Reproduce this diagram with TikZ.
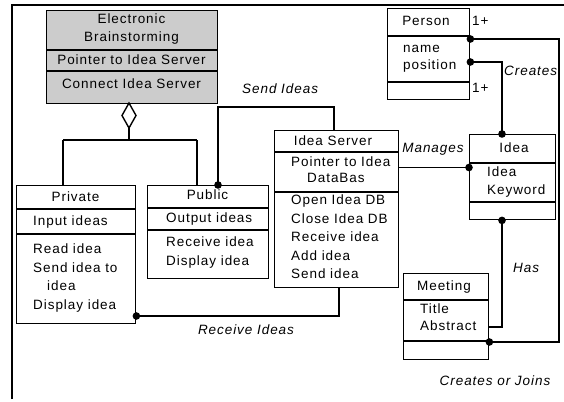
\documentclass[tikz,border=0pt]{standalone}
\usepackage{fontspec}
\setmainfont{Liberation Sans}[LetterSpace=7]
\begin{document}
\begin{tikzpicture}[x=1pt,y=-1pt,
  txt/.style={inner sep=0pt, text height=9.5pt, text depth=0pt, font=\fontsize{13.5}{15}\selectfont},
  lt/.style={txt, anchor=west},
  it/.style={txt, font=\fontsize{13.5}{15}\selectfont\itshape},
  itl/.style={it, anchor=west},
  cls/.style={draw, line width=1.4pt, inner sep=0pt, anchor=north west},
  sep/.style={line width=1.4pt},
  tsep/.style={line width=2.8pt},
  conn/.style={line width=1.4pt},
  dot/.style={fill=black}]
\useasboundingbox (0,0) rectangle (564,401);
% frame
\draw[line width=1.3pt] (12,399) -- (12,5) -- (564,5);

% Electronic Brainstorming
\node[cls, minimum width=171pt, minimum height=93pt, fill=gray!40] (eb) at (46,10) {};
\draw[sep] ([yshift=-40pt]eb.north west) -- ([yshift=-40pt]eb.north east);
\draw[sep] ([yshift=-61pt]eb.north west) -- ([yshift=-61pt]eb.north east);
\node[txt] (eb1) at (131.5,19) {Electronic};
\node[txt] (eb2) at (131.5,37) {Brainstorming};
\node[txt] (eb3) at (131.5,60) {Pointer to Idea Server};
\node[txt] (eb4) at (131.5,84) {Connect Idea Server};

% Private
\node[cls, minimum width=119pt, minimum height=138pt] (private) at (16,185) {};
\draw[tsep] ([yshift=-24pt]private.north west) -- ([yshift=-24pt]private.north east);
\draw[sep] ([yshift=-49pt]private.north west) -- ([yshift=-49pt]private.north east);
\node[txt] (pv0) at (75.5,197) {Private};
\node[lt] (pv1) at (33,221) {Input ideas};
\node[lt] (pv2) at (33,249) {Read idea};
\node[lt] (pv3) at (33,267.5) {Send idea to};
\node[lt] (pv4) at (47,286) {idea};
\node[lt] (pv5) at (33,305) {Display idea};

% Public
\node[cls, minimum width=121pt, minimum height=93pt] (public) at (147,185) {};
\draw[tsep] ([yshift=-23pt]public.north west) -- ([yshift=-23pt]public.north east);
\draw[sep] ([yshift=-45pt]public.north west) -- ([yshift=-45pt]public.north east);
\node[txt] (pb0) at (207.5,195) {Public};
\node[lt] (pb1) at (166,218) {Output ideas};
\node[lt] (pb2) at (166,242) {Receive idea};
\node[lt] (pb3) at (166,261) {Display idea};

% Idea Server
\node[cls, minimum width=124pt, minimum height=157pt] (server) at (274,130) {};
\draw[tsep] ([yshift=-22pt]server.north west) -- ([yshift=-22pt]server.north east);
\draw[tsep] ([yshift=-62pt]server.north west) -- ([yshift=-62pt]server.north east);
\node[txt] (is0) at (333,141) {Idea Server};
\node[lt] (is1) at (291,162) {Pointer to Idea};
\node[lt] (is2) at (307,178) {DataBas};
\node[lt] (is3) at (291,200) {Open Idea DB};
\node[lt] (is4) at (291,218.5) {Close Idea DB};
\node[lt] (is5) at (291,237) {Receive idea};
\node[lt] (is6) at (291,255.5) {Add idea};
\node[lt] (is7) at (291,274) {Send idea};

% Person
\node[cls, minimum width=82pt, minimum height=91pt] (person) at (387,8) {};
\draw[tsep] ([yshift=-28pt]person.north west) -- ([yshift=-28pt]person.north east);
\draw[tsep] ([yshift=-74pt]person.north west) -- ([yshift=-74pt]person.north east);
\node[txt] (ps0) at (426,21) {Person};
\node[lt] (ps1) at (403,48) {name};
\node[lt] (ps2) at (403,65) {position};
\node[lt] (m1) at (472,21) {1+};
\node[lt] (m2) at (472,88) {1+};

% Idea
\node[cls, minimum width=86pt, minimum height=85pt] (idea) at (469,134) {};
\draw[tsep] ([yshift=-29pt]idea.north west) -- ([yshift=-29pt]idea.north east);
\draw[tsep] ([yshift=-68pt]idea.north west) -- ([yshift=-68pt]idea.north east);
\node[txt] (id0) at (514,148) {Idea};
\node[lt] (id1) at (487,172) {Idea};
\node[lt] (id2) at (487,190) {Keyword};

% Meeting
\node[cls, minimum width=85pt, minimum height=86pt] (meeting) at (403,273) {};
\draw[tsep] ([yshift=-27pt]meeting.north west) -- ([yshift=-27pt]meeting.north east);
\draw[tsep] ([yshift=-68pt]meeting.north west) -- ([yshift=-68pt]meeting.north east);
\node[txt] (mt0) at (444,286) {Meeting};
\node[lt] (mt1) at (420,309) {Title};
\node[lt] (mt2) at (420,326) {Abstract};

% aggregation
\coordinate (dtop) at (129,103);
\coordinate (dbot) at (129,128);
\coordinate (agg) at (129,140);
\coordinate (aggL) at (63,140);
\coordinate (aggR) at (197,140);
\draw[conn] (dbot) -- (agg);
\draw[conn] (aggL) -- (aggR);
\draw[conn] (aggL) -- (aggL |- private.north);
\draw[conn] (aggR) -- (aggR |- public.north);
\draw[conn, fill=white] (dtop) -- (136,115.5) -- (dbot) -- (122,115.5) -- cycle;

% Send Ideas
\coordinate (si1) at (218,107);
\coordinate (si2) at (334,107);
\draw[conn] (si1 |- public.north) -- (si1) -- (si2) -- (si2 |- server.north);
\fill[dot] (si1 |- public.north) circle (3.8);
\node[itl] (lsi) at (242,89) {Send Ideas};

% Receive Ideas
\coordinate (ri) at (339,316);
\draw[conn] (private.east |- ri) -- (ri) -- (ri |- server.south);
\fill[dot] (private.east |- ri) circle (3.8);
\node[it] (lri) at (246,330) {Receive Ideas};

% Manages
\coordinate (mg) at (430,167.5);
\draw[conn] (server.east |- mg) -- (idea.west |- mg);
\fill[dot] (idea.west |- mg) circle (3.8);
\node[it] (lmg) at (433,148) {Manages};

% Creates
\coordinate (cr) at (502,62);
\draw[conn] (person.east |- cr) -- (cr) -- (cr |- idea.north);
\fill[dot] (person.east |- cr) circle (3.8);
\fill[dot] (cr |- idea.north) circle (3.8);
\node[itl] (lcr) at (504,71) {Creates};

% Has
\coordinate (hs) at (502,327);
\draw[conn] (hs |- idea.south) -- (hs) -- (meeting.east |- hs);
\fill[dot] (hs |- idea.south) circle (3.8);
\node[itl] (lhs) at (513,268) {Has};

% Creates or Joins
\coordinate (cj1) at (559,39);
\coordinate (cj2) at (559,342);
\draw[conn] (person.east |- cj1) -- (cj1) -- (cj2) -- (meeting.east |- cj2);
\fill[dot] (person.east |- cj1) circle (3.8);
\fill[dot] (meeting.east |- cj2) circle (3.8);
\node[it] (lcj) at (495,381) {Creates or Joins};
\end{tikzpicture}
\end{document}
